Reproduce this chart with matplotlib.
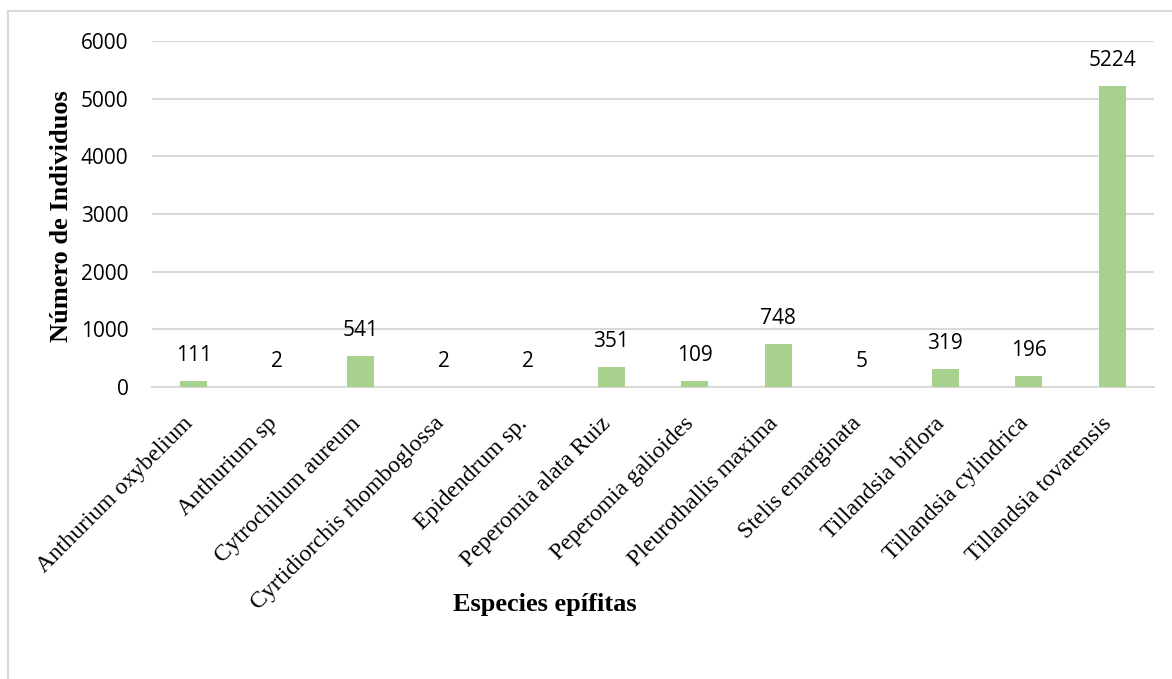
import matplotlib
matplotlib.use("Agg")
import matplotlib.pyplot as plt
import matplotlib.transforms as mtransforms
from matplotlib.lines import Line2D

species = [
    "Anthurium oxybelium", "Anthurium sp", "Cytrochilum aureum",
    "Cyrtidiorchis rhomboglossa", "Epidendrum sp.", "Peperomia alata Ruiz",
    "Peperomia galioides", "Pleurothallis maxima", "Stelis emarginata",
    "Tillandsia biflora", "Tillandsia cylindrica", "Tillandsia tovarensis",
]
individuos = [111, 2, 541, 2, 2, 351, 109, 748, 5, 319, 196, 5224]
y_ticks = [0, 1000, 2000, 3000, 4000, 5000, 6000]

BAR_COLOR = "#A9D18E"
GRID_COLOR = "#D9D9D9"
SANS = ["Open Sans", "DejaVu Sans"]
SERIF = ["Liberation Serif", "DejaVu Serif"]

fig = plt.figure(figsize=(11.72, 6.79), dpi=100)
ax = fig.add_axes([152 / 1172, 1 - 387 / 679, (1154 - 152) / 1172, (387 - 41) / 679])

x = list(range(len(species)))
ax.bar(x, individuos, width=0.32, color=BAR_COLOR, zorder=3)
ax.set_xlim(-0.5, len(species) - 0.5)
ax.set_ylim(0, 6000)

ax.set_yticks(y_ticks)
ax.set_yticklabels([str(v) for v in y_ticks], family=SANS, fontsize=15)
ax.yaxis.grid(True, color=GRID_COLOR, linewidth=1.5, zorder=0)
ax.tick_params(axis="y", length=0, pad=17)
ax.tick_params(axis="x", length=0, pad=0)

ax.set_xticks(x)
ax.set_xticklabels(species, family=SERIF, fontsize=17, rotation=45,
                   ha="right", va="top", rotation_mode="anchor")
shift = mtransforms.ScaledTranslation(-11 / 100, -26 / 100, fig.dpi_scale_trans)
for lbl in ax.get_xticklabels():
    lbl.set_transform(lbl.get_transform() + shift)

for side in ["left", "right", "top"]:
    ax.spines[side].set_visible(False)
ax.spines["bottom"].set_color(GRID_COLOR)
ax.spines["bottom"].set_linewidth(1.5)

for xi, v in zip(x, individuos):
    ax.annotate(str(v), (xi, v), xytext=(0, 18), textcoords="offset points",
                ha="center", va="center", family=SANS, fontsize=15, color="#000000")

fig.text(62 / 1172, 1 - 216 / 679, "Número de Individuos", rotation=90,
         ha="center", va="center", family=SERIF, fontsize=19, fontweight="bold")
fig.text(545 / 1172, 1 - 604 / 679, "Especies epífitas",
         ha="center", va="center", family=SERIF, fontsize=19, fontweight="bold")

# outer frame: left and top edges
fig.add_artist(Line2D([8 / 1172, 8 / 1172], [0, 1 - 11 / 679],
                      transform=fig.transFigure, color=GRID_COLOR, linewidth=1.5))
fig.add_artist(Line2D([8 / 1172, 1], [1 - 11 / 679, 1 - 11 / 679],
                      transform=fig.transFigure, color=GRID_COLOR, linewidth=1.5))

fig.savefig("out.png", dpi=100, facecolor="white")
